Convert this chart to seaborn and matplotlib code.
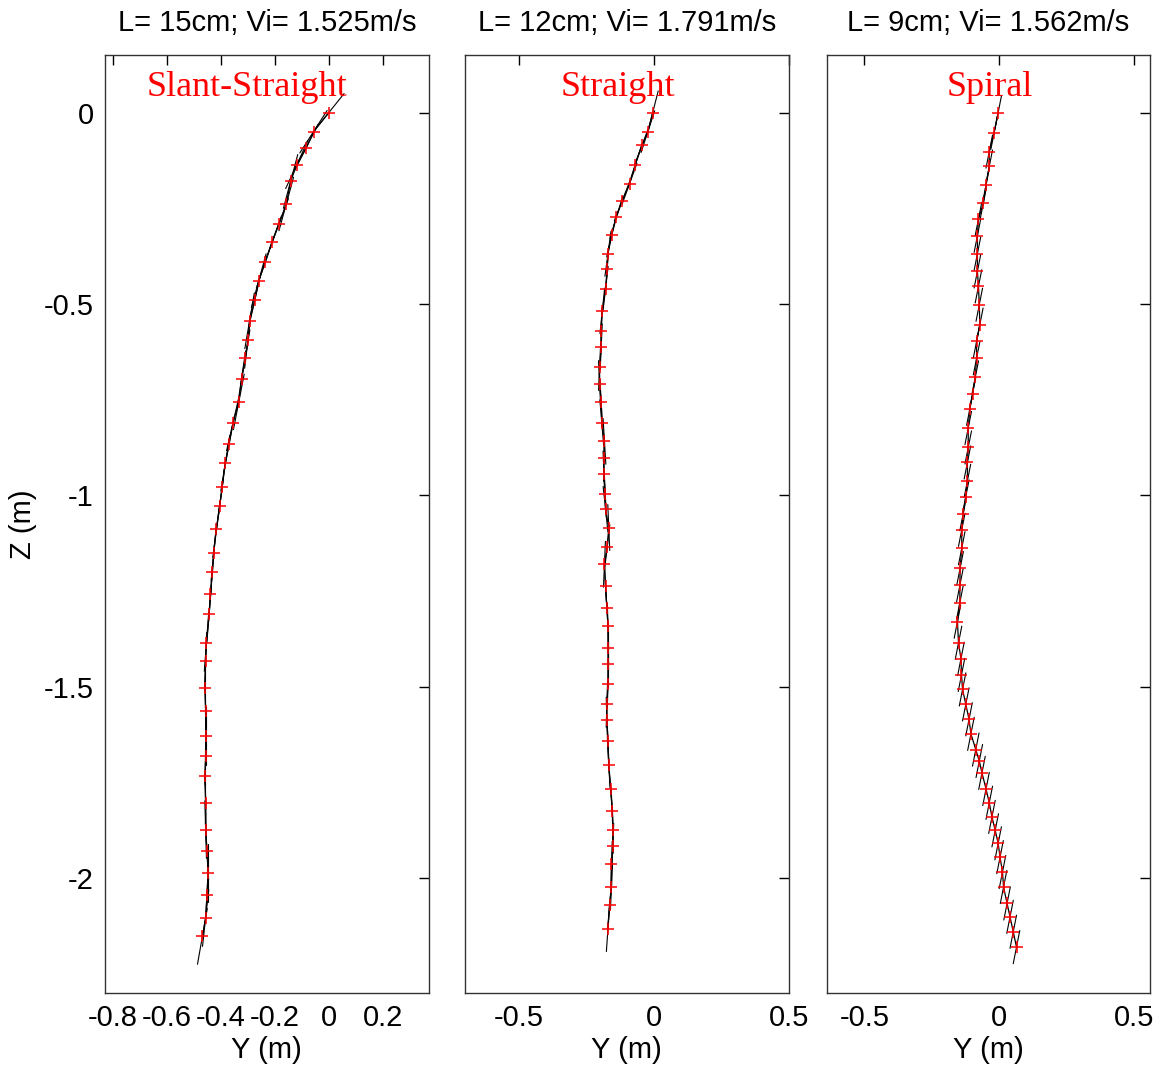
import numpy as np
import pandas as pd
import matplotlib
matplotlib.use('Agg')
import matplotlib.pyplot as plt
import seaborn as sns

# trajectory samples (Y, Z in metres), one set per rod
slant_y = [0.00, -0.057, -0.084, -0.119, -0.142, -0.158, -0.185, -0.210, -0.236, -0.260,
           -0.275, -0.294, -0.300, -0.310, -0.324, -0.334, -0.356, -0.370, -0.384, -0.396,
           -0.405, -0.417, -0.427, -0.432, -0.439, -0.444, -0.454, -0.457, -0.460, -0.457,
           -0.457, -0.457, -0.460, -0.457, -0.457, -0.452, -0.448, -0.452, -0.457, -0.469]
slant_z = [0.00, -0.050, -0.092, -0.136, -0.180, -0.239, -0.291, -0.337, -0.391, -0.439,
           -0.491, -0.544, -0.594, -0.641, -0.696, -0.756, -0.812, -0.866, -0.916, -0.979,
           -1.029, -1.088, -1.150, -1.200, -1.257, -1.311, -1.385, -1.433, -1.502, -1.563,
           -1.629, -1.681, -1.734, -1.803, -1.873, -1.929, -1.986, -2.043, -2.104, -2.152]

straight_y = [-0.004, -0.022, -0.043, -0.069, -0.090, -0.117, -0.139, -0.156, -0.170, -0.173,
              -0.179, -0.191, -0.195, -0.195, -0.201, -0.201, -0.195, -0.193, -0.183, -0.185,
              -0.185, -0.180, -0.179, -0.167, -0.173, -0.183, -0.179, -0.174, -0.170, -0.170,
              -0.170, -0.170, -0.174, -0.174, -0.170, -0.167, -0.160, -0.154, -0.152, -0.152,
              -0.157, -0.157, -0.164, -0.170]
straight_z = [0.00, -0.050, -0.084, -0.137, -0.186, -0.230, -0.274, -0.320, -0.369, -0.409,
              -0.461, -0.518, -0.570, -0.612, -0.666, -0.708, -0.757, -0.810, -0.859, -0.903,
              -0.945, -0.997, -1.036, -1.084, -1.136, -1.180, -1.237, -1.293, -1.341, -1.398,
              -1.441, -1.494, -1.546, -1.587, -1.642, -1.705, -1.767, -1.825, -1.875, -1.917,
              -1.964, -2.023, -2.071, -2.132]

spiral_y = [-0.004, -0.019, -0.037, -0.037, -0.049, -0.059, -0.077, -0.081, -0.081, -0.081,
            -0.077, -0.074, -0.072, -0.084, -0.084, -0.089, -0.099, -0.109, -0.115, -0.115,
            -0.118, -0.118, -0.124, -0.134, -0.139, -0.139, -0.145, -0.146, -0.146, -0.155,
            -0.151, -0.142, -0.140, -0.136, -0.124, -0.112, -0.105, -0.087, -0.074, -0.064,
            -0.049, -0.037, -0.027, -0.015, -0.004, 0.003, 0.012, 0.016, 0.029, 0.040,
            0.052, 0.064]
spiral_z = [0.00, -0.053, -0.102, -0.141, -0.189, -0.237, -0.278, -0.322, -0.369, -0.415,
            -0.454, -0.502, -0.554, -0.598, -0.642, -0.692, -0.735, -0.774, -0.824, -0.875,
            -0.914, -0.962, -1.003, -1.049, -1.090, -1.138, -1.190, -1.235, -1.280, -1.330,
            -1.385, -1.427, -1.469, -1.507, -1.546, -1.585, -1.623, -1.664, -1.694, -1.725,
            -1.767, -1.803, -1.840, -1.875, -1.909, -1.945, -1.984, -2.023, -2.066, -2.101,
            -2.140, -2.180]

rod_lengths = [0.15, 0.12, 0.09]
# rod lean (dY per dZ); None = rod follows the path
rod_lean = [None, None, -0.28]
titles = ['L= 15cm; Vi= 1.525m/s', 'L= 12cm; Vi= 1.791m/s', 'L= 9cm; Vi= 1.562m/s']
shapes = ['Slant-Straight', 'Straight', 'Spiral']
xlims = [(-0.83, 0.37), (-0.70, 0.50), (-0.64, 0.56)]
xticks = [[-0.8, -0.6, -0.4, -0.2, 0, 0.2], [-0.5, 0, 0.5], [-0.5, 0, 0.5]]
yticks = [0, -0.5, -1, -1.5, -2]
label_x = [0.439, 0.472, 0.505]

sns.set_style('white')
plt.rcParams['font.family'] = ['Liberation Sans', 'DejaVu Sans']
plt.rcParams['axes.unicode_minus'] = False
plt.rcParams['text.color'] = 'black'
plt.rcParams['axes.labelcolor'] = 'black'

fig = plt.figure(figsize=(11.62, 10.76), dpi=100)
lefts = [0.0904, 0.4002, 0.7114]
runs = [(slant_y, slant_z), (straight_y, straight_z), (spiral_y, spiral_z)]

for i, (ys, zs) in enumerate(runs):
    ax = fig.add_axes([lefts[i], 0.0771, 0.2785, 0.8717])
    df = pd.DataFrame({'Y': ys, 'Z': zs})

    # rods centred on each sample
    y = np.array(ys)
    z = np.array(zs)
    if rod_lean[i] is None:
        ty = np.gradient(y)
        tz = np.gradient(z)
    else:
        ty = np.full(len(y), -rod_lean[i])
        tz = np.full(len(y), 1.0)
    norm = np.hypot(ty, tz)
    half = rod_lengths[i] / 2

    sns.lineplot(data=df, x='Y', y='Z', sort=False, estimator=None, color='black', lw=0.9,
                 ax=ax, zorder=2)
    for k in range(len(y)):
        dy = ty[k] / norm[k] * half
        dz = tz[k] / norm[k] * half
        ax.plot([y[k] - dy, y[k] + dy], [z[k] - dz, z[k] + dz], color='black', lw=0.8, zorder=2)
    sns.scatterplot(data=df, x='Y', y='Z', marker='+', color='red', s=70, linewidth=1.1,
                    ax=ax, zorder=4)

    ax.set_xlim(*xlims[i])
    ax.set_ylim(-2.3, 0.15)
    ax.set_xticks(xticks[i])
    ax.set_xticklabels(['%g' % t for t in xticks[i]])
    ax.set_yticks(yticks)
    if i == 0:
        ax.set_yticklabels(['%g' % t for t in yticks])
        ax.set_ylabel('Z (m)', fontsize=21, labelpad=5)
    else:
        ax.set_yticklabels([])
        ax.set_ylabel('')
    ax.set_xlabel('Y (m)', fontsize=21, labelpad=3)
    ax.set_title(titles[i], fontsize=21, pad=17, color='black')
    ax.tick_params(direction='in', length=7, width=1, top=True, right=True,
                   labelsize=21, pad=8, colors='black')
    for sp in ax.spines.values():
        sp.set_color('#333333')
        sp.set_linewidth(1)
    ax.text(label_x[i], 0.956, shapes[i], transform=ax.transAxes, color='red',
            fontsize=26, family='Liberation Serif', ha='center', va='baseline')

plt.savefig('out.png', dpi=100)
plt.close()
